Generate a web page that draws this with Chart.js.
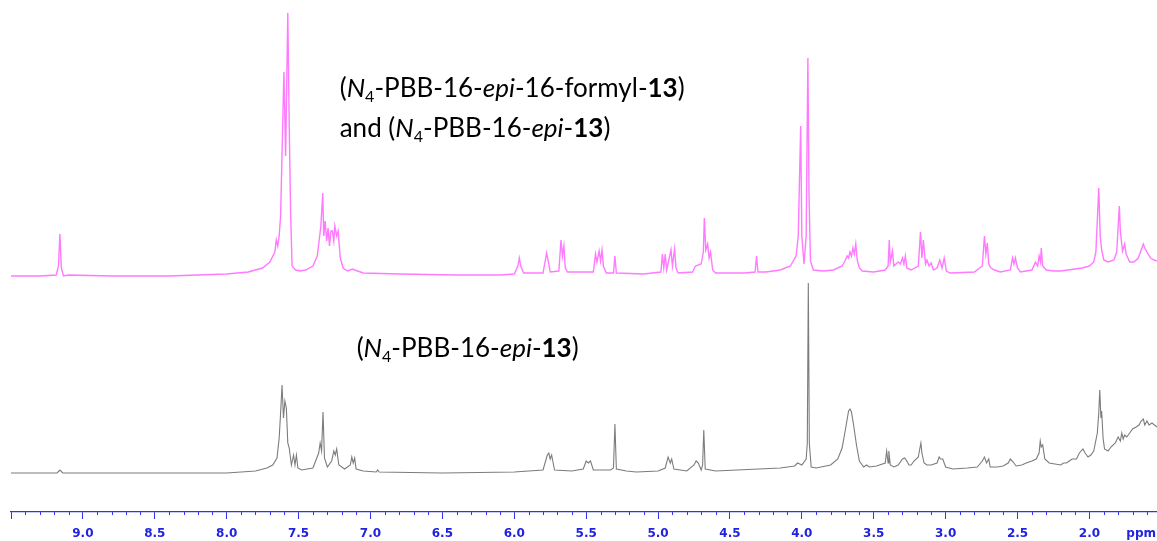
<!DOCTYPE html>
<html>
<head>
<meta charset="utf-8">
<script src="https://cdn.jsdelivr.net/npm/chart.js@4.4.1/dist/chart.umd.min.js"></script>
<style>
  html, body { margin: 0; padding: 0; background: #fff; }
  canvas { display: block; }
</style>
</head>
<body>
<canvas id="nmr" width="1157" height="541"></canvas>
<script>
// chemical shift (ppm) / intensity (a.u.)
const topPpm = [9.50, 9.30, 9.185, 9.17, 9.16, 9.15, 9.135, 9.10, 8.80, 8.40, 8.20, 8.00, 7.85, 7.75, 7.70, 7.665, 7.655, 7.645, 7.635, 7.625,
  7.602, 7.59, 7.575, 7.565, 7.555, 7.545, 7.52, 7.49, 7.45, 7.40, 7.37, 7.345, 7.332, 7.325, 7.315, 7.305, 7.295, 7.285, 7.275, 7.265,
  7.255, 7.248, 7.235, 7.225, 7.21, 7.19, 7.16, 7.125, 7.11, 7.05, 6.80, 6.40, 6.10,
  6.00, 5.975, 5.965, 5.955, 5.935, 5.80, 5.785, 5.775, 5.765, 5.75, 5.69, 5.675, 5.665, 5.655, 5.645, 5.63,
  5.45, 5.435, 5.425, 5.41, 5.40, 5.39, 5.38, 5.36, 5.31, 5.30, 5.29, 5.10,
  4.98, 4.97, 4.96, 4.95, 4.94, 4.91, 4.90, 4.885, 4.875, 4.86, 4.76, 4.74, 4.70, 4.685, 4.678, 4.668, 4.655, 4.645, 4.635, 4.62, 4.60,
  4.40, 4.325, 4.315, 4.305, 4.25, 4.15, 4.08, 4.04, 4.025, 4.008, 4.00, 3.985, 3.97, 3.958, 3.95, 3.94, 3.92,
  3.85, 3.78, 3.72, 3.70, 3.685, 3.675, 3.665, 3.655, 3.645, 3.635, 3.625, 3.615, 3.60, 3.58, 3.50,
  3.42, 3.40, 3.392, 3.385, 3.37, 3.36, 3.345, 3.33, 3.315, 3.30, 3.29, 3.28, 3.27, 3.24, 3.19, 3.175, 3.165, 3.155, 3.14, 3.13,
  3.115, 3.10, 3.085, 3.06, 3.04, 3.025, 3.01, 2.995, 2.97, 2.80, 2.745, 2.73, 2.72, 2.71, 2.70, 2.685, 2.66, 2.62,
  2.55, 2.535, 2.525, 2.515, 2.50, 2.48, 2.40, 2.375, 2.36, 2.35, 2.34, 2.335, 2.325, 2.30, 2.25, 2.20, 2.15, 2.10, 2.05,
  2.00, 1.97, 1.955, 1.935, 1.925, 1.915, 1.90, 1.87, 1.83, 1.81, 1.80, 1.792, 1.785, 1.77, 1.755, 1.745, 1.72, 1.69, 1.66, 1.64,
  1.625, 1.615, 1.60, 1.575, 1.55, 1.53];
const topInt = [0, 0, 1, 10, 42, 8, 0, 1, 0, 0, 1, 2, 4, 8, 14, 24, 36, 30, 40, 60,
  204, 120, 263, 150, 60, 10, 6, 5, 6, 10, 20, 50, 83, 40, 55, 35, 48, 30, 45, 45,
  35, 50, 40, 45, 18, 8, 5, 7, 6, 3, 2, 1, 1,
  2, 10, 18, 10, 3, 3, 15, 23, 16, 4, 5, 36, 20, 30, 8, 4,
  4, 22, 14, 25, 15, 26, 10, 3, 3, 20, 3, 2,
  4, 22, 8, 22, 6, 26, 10, 27, 8, 3, 4, 10, 12, 24, 58, 26, 32, 18, 24, 6, 3,
  3, 4, 20, 4, 4, 6, 10, 20, 40, 150, 40, 12, 40, 218, 80, 15, 6,
  5, 6, 10, 15, 20, 18, 24, 20, 28, 22, 32, 16, 8, 5, 4,
  6, 10, 36, 14, 25, 10, 12, 14, 12, 18, 12, 20, 8, 6, 10, 44, 18, 36, 12, 16,
  10, 13, 6, 8, 16, 8, 18, 5, 3, 4, 10, 40, 22, 33, 12, 8, 6, 4,
  6, 18, 12, 18, 8, 4, 6, 14, 10, 20, 14, 28, 10, 6, 5, 5, 6, 7, 8,
  10, 14, 24, 88, 40, 26, 16, 14, 16, 24, 50, 70, 45, 25, 32, 22, 14, 14, 18, 26,
  32, 28, 24, 18, 16, 15];

const botPpm = [9.50, 9.18, 9.16, 9.14, 8.00, 7.80, 7.72, 7.68, 7.65, 7.635, 7.625, 7.615, 7.605, 7.595, 7.585, 7.575, 7.565, 7.55,
  7.535, 7.525, 7.515, 7.505, 7.48, 7.40, 7.36, 7.35, 7.34, 7.33, 7.32, 7.30, 7.27, 7.255, 7.245, 7.235, 7.22, 7.18,
  7.14, 7.13, 7.12, 7.11, 7.10, 7.05, 6.96, 6.95, 6.94, 6.50, 6.00,
  5.80, 5.77, 5.76, 5.75, 5.74, 5.72, 5.60, 5.52, 5.50, 5.485, 5.47, 5.45, 5.33, 5.31, 5.30, 5.29, 5.22, 5.15,
  5.00, 4.95, 4.93, 4.915, 4.905, 4.89, 4.80, 4.75, 4.735, 4.72, 4.70, 4.69, 4.682, 4.672, 4.60, 4.45, 4.30, 4.15,
  4.05, 4.03, 4.00, 3.97, 3.962, 3.955, 3.948, 3.935, 3.90, 3.80, 3.75, 3.72, 3.695, 3.675, 3.665, 3.655, 3.64, 3.62,
  3.60, 3.57, 3.55, 3.53, 3.48, 3.42, 3.41, 3.40, 3.395, 3.385, 3.36, 3.33, 3.30, 3.285, 3.27, 3.255, 3.24, 3.22,
  3.19, 3.18, 3.172, 3.165, 3.15, 3.13, 3.10, 3.06, 3.045, 3.035, 3.02, 3.00, 2.95, 2.85, 2.78, 2.745, 2.73, 2.715, 2.70, 2.69,
  2.64, 2.60, 2.565, 2.55, 2.53, 2.51, 2.47, 2.44, 2.40, 2.37, 2.35, 2.342, 2.335, 2.325, 2.31, 2.28, 2.20, 2.18,
  2.16, 2.14, 2.12, 2.09, 2.07, 2.045, 2.03, 2.01, 1.99, 1.97, 1.945, 1.935, 1.928, 1.92, 1.915, 1.905, 1.895, 1.87,
  1.85, 1.82, 1.80, 1.785, 1.775, 1.765, 1.755, 1.74, 1.72, 1.70, 1.675, 1.655, 1.64, 1.625, 1.615, 1.60, 1.585, 1.565, 1.53];
const botInt = [0, 0, 3, 0, 0, 2, 5, 8, 15, 35, 60, 88, 55, 72, 65, 30, 25, 8,
  18, 8, 18, 5, 3, 5, 20, 30, 22, 61, 15, 6, 12, 22, 18, 24, 8, 4,
  8, 16, 10, 15, 4, 2, 1, 3, 1, 0, 1,
  3, 18, 20, 14, 18, 3, 2, 4, 12, 10, 12, 3, 3, 5, 49, 4, 2, 1,
  2, 5, 16, 10, 14, 4, 2, 8, 12, 10, 3, 8, 43, 4, 2, 3, 4, 5,
  7, 10, 8, 14, 30, 190, 30, 6, 5, 8, 14, 25, 45, 62, 64, 61, 48, 28,
  12, 6, 8, 6, 7, 10, 22, 10, 22, 8, 6, 8, 14, 15, 12, 8, 8, 12,
  16, 24, 30, 20, 10, 8, 8, 10, 16, 14, 14, 6, 4, 5, 6, 12, 16, 10, 14, 6,
  6, 7, 10, 14, 11, 7, 8, 10, 12, 14, 20, 32, 26, 28, 14, 10, 8, 10,
  10, 12, 14, 14, 20, 24, 20, 16, 18, 22, 40, 60, 83, 55, 62, 35, 24, 22,
  26, 30, 36, 32, 40, 34, 38, 36, 40, 44, 46, 48, 52, 54, 48, 52, 48, 50, 46];

const majorTicks = [9.5, 9.0, 8.5, 8.0, 7.5, 7.0, 6.5, 6.0, 5.5, 5.0, 4.5, 4.0, 3.5, 3.0, 2.5, 2.0];
const unitLabel = 'ppm';

// caption text runs: i = italic, b = bold, sub = subscript
const captionTop1 = [{ t: '(' }, { t: 'N', i: true }, { t: '4', sub: true }, { t: '-PBB-16-' }, { t: 'epi', i: true },
  { t: '-16-formyl-' }, { t: '13', b: true }, { t: ')' }];
const captionTop2 = [{ t: 'and (' }, { t: 'N', i: true }, { t: '4', sub: true }, { t: '-PBB-16-' }, { t: 'epi', i: true },
  { t: '-' }, { t: '13', b: true }, { t: ')' }];
const captionBot = [{ t: '(' }, { t: 'N', i: true }, { t: '4', sub: true }, { t: '-PBB-16-' }, { t: 'epi', i: true },
  { t: '-' }, { t: '13', b: true }, { t: ')' }];

const AXIS_BLUE = '#3434ee';
const LABEL_BLUE = '#2222e0';
const CAPTION_FONT = 'Lato, "Open Sans", sans-serif';
const CAPTION_SIZE = 26;

const toPoints = (xs, ys) => xs.map((x, i) => ({ x: x, y: ys[i] }));

function drawRuns(ctx, runs, x, y, size) {
    runs.forEach(r => {
        const fs = r.sub ? Math.round(size * 0.62) : size;
        ctx.font = (r.i ? 'italic ' : '') + (r.b ? 'bold ' : '') + fs + 'px ' + CAPTION_FONT;
        ctx.fillText(r.t, x, r.sub ? y + size * 0.2 : y);
        x += ctx.measureText(r.t).width;
    });
}

const captionPlugin = {
    id: 'captions',
    afterDatasetsDraw(chart) {
        const ctx = chart.ctx;
        const xs = chart.scales.x;
        ctx.save();
        ctx.fillStyle = '#000';
        ctx.textBaseline = 'alphabetic';
        ctx.textAlign = 'left';
        drawRuns(ctx, captionTop1, xs.getPixelForValue(7.214), chart.scales.yTop.getPixelForValue(179), CAPTION_SIZE);
        drawRuns(ctx, captionTop2, xs.getPixelForValue(7.214), chart.scales.yTop.getPixelForValue(139), CAPTION_SIZE);
        drawRuns(ctx, captionBot, xs.getPixelForValue(7.096), chart.scales.yBot.getPixelForValue(116), CAPTION_SIZE);
        ctx.restore();
    }
};

const minorTickPlugin = {
    id: 'minorTicks',
    afterDraw(chart) {
        const s = chart.scales.x;
        const ctx = chart.ctx;
        ctx.save();
        ctx.strokeStyle = AXIS_BLUE;
        ctx.lineWidth = 1;
        for (let v = 94; v >= 16; v--) {
            if (v % 5 === 0) continue;
            const px = Math.round(s.getPixelForValue(v / 10)) + 0.5;
            ctx.beginPath();
            ctx.moveTo(px, s.top);
            ctx.lineTo(px, s.top + 3);
            ctx.stroke();
        }
        ctx.restore();
    }
};

new Chart(document.getElementById('nmr'), {
    type: 'line',
    data: {
        datasets: [{
            label: 'N4-PBB-16-epi-16-formyl-13 + N4-PBB-16-epi-13',
            data: toPoints(topPpm, topInt),
            yAxisID: 'yTop',
            borderColor: '#ff7aff',
            borderWidth: 1.4,
            pointRadius: 0,
            tension: 0
        }, {
            label: 'N4-PBB-16-epi-13',
            data: toPoints(botPpm, botInt),
            yAxisID: 'yBot',
            borderColor: '#7c7c7c',
            borderWidth: 1.1,
            pointRadius: 0,
            tension: 0
        }]
    },
    options: {
        responsive: false,
        animation: false,
        devicePixelRatio: 1,
        layout: { padding: { left: 11, right: 0, top: 0, bottom: 0 } },
        plugins: { legend: { display: false }, tooltip: { enabled: false } },
        scales: {
            x: {
                type: 'linear',
                reverse: true,
                min: 1.53,
                max: 9.5,
                afterBuildTicks: (s) => {
                    s.ticks = majorTicks.map(v => ({ value: v })).concat([{ value: 1.64 }]);
                },
                afterFit: (s) => {
                    s.height = 29;
                    s.paddingLeft = 0;
                    s.paddingRight = 0;
                },
                border: { display: true, color: AXIS_BLUE, width: 1.2 },
                grid: {
                    drawOnChartArea: false,
                    tickLength: 7,
                    tickWidth: 1,
                    tickColor: (c) => (c.tick && c.tick.value < 1.9 ? 'rgba(0,0,0,0)' : AXIS_BLUE)
                },
                ticks: {
                    autoSkip: false,
                    maxRotation: 0,
                    padding: 8,
                    color: LABEL_BLUE,
                    font: { family: '"DejaVu Sans", Verdana, sans-serif', weight: 'bold', size: 12 },
                    callback: (v) => {
                        if (v < 1.9) return unitLabel;
                        if (v > 9.4) return '';
                        return v.toFixed(1);
                    }
                }
            },
            yTop: { display: false, min: -236, max: 276 },
            yBot: { display: false, min: -39, max: 473 }
        }
    },
    plugins: [captionPlugin, minorTickPlugin]
});
</script>
</body>
</html>
